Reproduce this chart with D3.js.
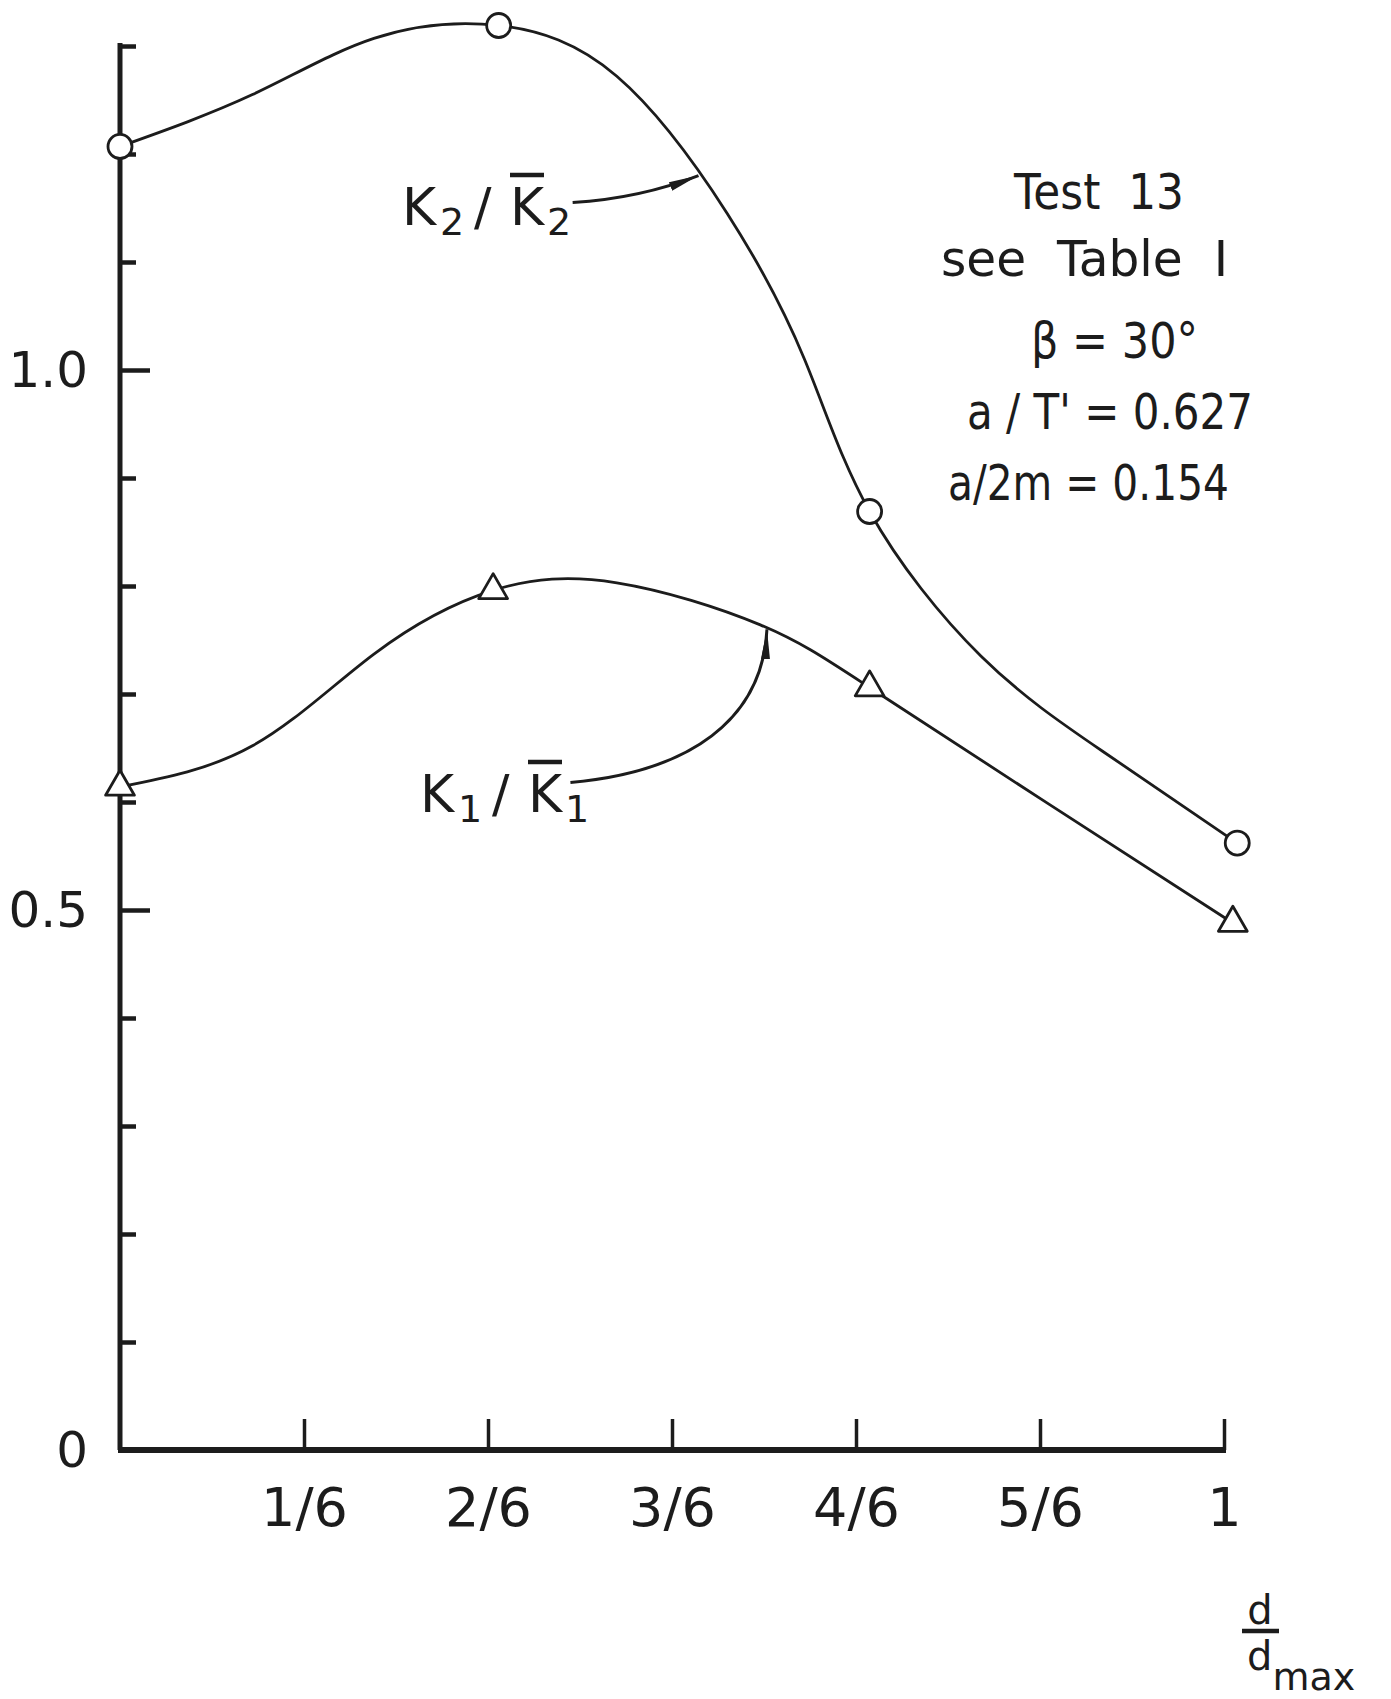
<!DOCTYPE html>
<html>
<head>
<meta charset="utf-8">
<title>Test 13 - K/K-bar vs d/dmax</title>
<script src="https://d3js.org/d3.v7.min.js"></script>
<style>
  body { margin: 0; background: #fff; }
  svg text { font-family: "DejaVu Sans", sans-serif; fill: #1c1c1c; }
</style>
</head>
<body>
<div id="chart"></div>
<script>
// marker values
var k2X = [0, 0.343, 0.679, 1.012];
var k2Y = [1.207, 1.319, 0.869, 0.562];
var k1X = [0, 0.338, 0.679, 1.008];
var k1Y = [0.614, 0.796, 0.706, 0.488];

// the hand drawn curves, a few points
var k2CurveX = [0, 0.120, 0.230, 0.343, 0.450, 0.550, 0.620, 0.679, 0.780, 0.890, 1.012];
var k2CurveY = [1.207, 1.255, 1.307, 1.319, 1.272, 1.145, 1.010, 0.869, 0.735, 0.647, 0.562];
var k1CurveX = [0, 0.120, 0.230, 0.338, 0.450, 0.580, 0.679, 0.840, 1.008];
var k1CurveY = [0.614, 0.652, 0.737, 0.796, 0.803, 0.764, 0.706, 0.599, 0.488];

// axis ticks
var xTicks = [1/6, 2/6, 3/6, 4/6, 5/6, 1];
var xTickLabels = ["1/6", "2/6", "3/6", "4/6", "5/6", "1"];
var yMajor = [0, 0.5, 1.0];
var yMajorLabels = ["0", "0.5", "1.0"];
var yMinor = [0.1, 0.2, 0.3, 0.4, 0.6, 0.7, 0.8, 0.9, 1.1, 1.2, 1.3];

// test parameters
var infoLines = ["Test  13", "see  Table  I", "\u03B2 = 30\u00B0", "a / T' = 0.627", "a/2m = 0.154"];

var width = 1391, height = 1699;

var x = d3.scaleLinear().domain([0, 1]).range([120, 1224]);
var y = d3.scaleLinear().domain([0, 1]).range([1450, 370]);

var svg = d3.select("#chart").append("svg")
    .attr("width", width)
    .attr("height", height);

svg.append("rect").attr("width", width).attr("height", height).attr("fill", "#fff");

var ink = "#1c1c1c";

// arrow heads for the labels
var defs = svg.append("defs");
defs.append("marker")
    .attr("id", "head")
    .attr("viewBox", "0 0 10 4")
    .attr("refX", 10).attr("refY", 2)
    .attr("markerWidth", 30).attr("markerHeight", 12)
    .attr("markerUnits", "userSpaceOnUse")
    .attr("orient", "auto")
  .append("path")
    .attr("d", "M0,0.5 L10,2 L0,3.5 Z")
    .attr("fill", ink);

// y axis: minor ticks, then major ticks with labels
svg.append("g")
    .attr("transform", "translate(" + x(0) + ",0)")
    .call(d3.axisLeft(y).tickValues(yMinor).tickSize(-16).tickFormat(""))
    .call(function(g) { g.select(".domain").remove(); })
    .selectAll("line").attr("stroke", ink).attr("stroke-width", 4.5);

var yAx = svg.append("g")
    .attr("transform", "translate(" + x(0) + ",0)")
    .call(d3.axisLeft(y).tickValues(yMajor).tickSize(-30).tickPadding(32)
        .tickFormat(function(d, i) { return yMajorLabels[i]; }))
    .call(function(g) { g.select(".domain").remove(); });
yAx.selectAll("line").attr("stroke", ink).attr("stroke-width", 4.5);
yAx.selectAll("text").attr("font-size", 50).attr("fill", ink)
    .style("font-family", "DejaVu Sans");

svg.append("line")
    .attr("x1", x(0)).attr("x2", x(0))
    .attr("y1", y(1.3) - 3).attr("y2", y(0))
    .attr("stroke", ink).attr("stroke-width", 5);

// x axis
var xAx = svg.append("g")
    .attr("transform", "translate(0," + y(0) + ")")
    .call(d3.axisBottom(x).tickValues(xTicks).tickSize(-31).tickPadding(38)
        .tickFormat(function(d, i) { return xTickLabels[i]; }))
    .call(function(g) { g.select(".domain").remove(); });
xAx.selectAll("line").attr("stroke", ink).attr("stroke-width", 3.5);
xAx.selectAll("text").attr("font-size", 54).attr("fill", ink)
    .style("font-family", "DejaVu Sans");

svg.append("line")
    .attr("x1", x(0) - 2).attr("x2", x(1) + 2)
    .attr("y1", y(0)).attr("y2", y(0))
    .attr("stroke", ink).attr("stroke-width", 6);

// x axis title d / d max
var xt = svg.append("g").attr("font-size", 40);
xt.append("text").attr("x", 1260).attr("y", 1624).attr("text-anchor", "middle").text("d");
xt.append("line").attr("x1", 1242).attr("x2", 1279).attr("y1", 1631).attr("y2", 1631)
    .attr("stroke", ink).attr("stroke-width", 4.5);
var den = xt.append("text").attr("x", 1247).attr("y", 1670);
den.append("tspan").text("d");
den.append("tspan").attr("dy", 20).attr("font-size", 38).text("max");

// curves
var line = d3.line()
    .x(function(d) { return x(d[0]); })
    .y(function(d) { return y(d[1]); })
    .curve(d3.curveNatural);

svg.append("path")
    .datum(d3.zip(k2CurveX, k2CurveY))
    .attr("d", line)
    .attr("fill", "none").attr("stroke", ink).attr("stroke-width", 2.8);

svg.append("path")
    .datum(d3.zip(k1CurveX, k1CurveY))
    .attr("d", line)
    .attr("fill", "none").attr("stroke", ink).attr("stroke-width", 2.8);

// markers
svg.selectAll(".k2mark")
    .data(d3.zip(k2X, k2Y))
    .enter().append("circle")
    .attr("class", "k2mark")
    .attr("cx", function(d) { return x(d[0]); })
    .attr("cy", function(d) { return y(d[1]); })
    .attr("r", 12)
    .attr("fill", "#fff").attr("stroke", ink).attr("stroke-width", 2.8);

var tri = d3.symbol().type(d3.symbolTriangle).size(360);
svg.selectAll(".k1mark")
    .data(d3.zip(k1X, k1Y))
    .enter().append("path")
    .attr("class", "k1mark")
    .attr("transform", function(d) { return "translate(" + x(d[0]) + "," + y(d[1]) + ")"; })
    .attr("d", tri)
    .attr("fill", "#fff").attr("stroke", ink).attr("stroke-width", 2.8)
    .attr("stroke-linejoin", "round");

// label arrows
var p2 = d3.path();
p2.moveTo(x(0.410), y(1.155));
p2.quadraticCurveTo(x(0.471), y(1.159), x(0.524), y(1.180));
svg.append("path").attr("d", p2.toString())
    .attr("fill", "none").attr("stroke", ink).attr("stroke-width", 3)
    .attr("marker-end", "url(#head)");

var p1 = d3.path();
p1.moveTo(x(0.408), y(0.618));
p1.bezierCurveTo(x(0.516), y(0.628), x(0.582), y(0.676), x(0.586), y(0.760));
svg.append("path").attr("d", p1.toString())
    .attr("fill", "none").attr("stroke", ink).attr("stroke-width", 3)
    .attr("marker-end", "url(#head)");

// curve labels K2/K2bar and K1/K1bar
function kLabel(x0, base, sub) {
  var t = svg.append("text").attr("y", base).attr("font-size", 52);
  t.append("tspan").attr("x", x0).text("K");
  t.append("tspan").attr("x", x0 + 38).attr("dy", 10).attr("font-size", 38).text(sub);
  t.append("tspan").attr("x", x0 + 72).attr("dy", -10).text("/");
  t.append("tspan").attr("x", x0 + 108).text("K");
  t.append("tspan").attr("x", x0 + 145).attr("dy", 10).attr("font-size", 38).text(sub);
  svg.append("line")
      .attr("x1", x0 + 108).attr("x2", x0 + 142)
      .attr("y1", base - 50).attr("y2", base - 50)
      .attr("stroke", ink).attr("stroke-width", 4.5);
}
kLabel(402, 225, "2");
kLabel(420, 812, "1");

// parameter block
var infoX = [1014, 941, 1031, 967, 948];
var infoY = [209, 276, 358, 429, 500];
var infoW = [170, 287, 167, 286, 281];
svg.selectAll(".info")
    .data(infoLines)
    .enter().append("text")
    .attr("class", "info")
    .attr("x", function(d, i) { return infoX[i]; })
    .attr("y", function(d, i) { return infoY[i]; })
    .attr("textLength", function(d, i) { return infoW[i]; })
    .attr("lengthAdjust", "spacingAndGlyphs")
    .attr("font-size", 49)
    .style("white-space", "pre")
    .text(function(d) { return d; });
</script>
</body>
</html>
